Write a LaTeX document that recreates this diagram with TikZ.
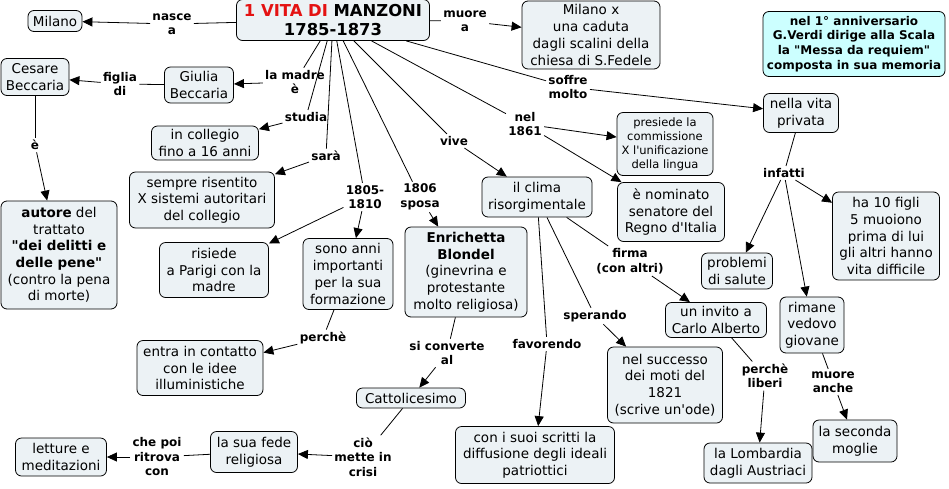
\documentclass[tikz,border=0pt]{standalone}
\usepackage{fontspec}
\setmainfont{DejaVu Sans}[Ligatures=TeXOff]
\usetikzlibrary{arrows.meta}

\definecolor{cmapfill}{RGB}{236,242,245}
\definecolor{notefill}{RGB}{204,255,255}
\definecolor{titlered}{RGB}{228,18,18}

\begin{document}
\begin{tikzpicture}[x=1pt, y=-1pt, line width=0.8pt,
    concept/.style={draw, rounded corners=6pt, fill=cmapfill, align=center, inner xsep=3pt, inner ysep=2pt, font={\fontsize{13.5}{16.7}\selectfont}},
    link/.style={align=center, inner sep=2pt, font={\fontsize{12}{14.5}\selectfont\bfseries}},
    arr/.style={-{Triangle[length=10pt, width=9pt]}}]
  \useasboundingbox (0,0) rectangle (949,488);

  % main concept
  \node[concept, minimum width=193pt, minimum height=41pt, font={\fontsize{16.4}{19}\selectfont\bfseries}] (root) at (333,20) {\textcolor{titlered}{1 VITA DI} MANZONI\\1785-1873};
  % concepts
  \foreach \n/\x/\y/\w/\h/\txt in {milano/55/21/54/21/{Milano},
      milanox/591/35/138/68/{Milano x\\una caduta\\dagli scalini della\\chiesa di S.Fedele},
      cesare/35/77/68/37/{Cesare\\Beccaria},
      giulia/199/85/69/36/{Giulia\\Beccaria},
      collegio/205/143/107/34/{in collegio\\fino a 16 anni},
      sempre/202/200/145/56/{sempre risentito\\X sistemi autoritari\\del collegio},
      autore/59/255/116/108/{\textbf{autore} del\\trattato\\\textbf{"dei delitti e}\\\textbf{delle pene"}\\(contro la pena\\di morte)},
      risiede/214/270/109/55/{risiede\\a Parigi con la\\madre},
      sono/348/274/90/71/{sono anni\\importanti\\per la sua\\formazione},
      enrichetta/466/272/122/90/{\textbf{Enrichetta}\\\textbf{Blondel}\\(ginevrina e\\protestante\\molto religiosa)},
      entra/200/368/126/55/{entra in contatto\\con le idee\\illuministiche},
      catt/411/398/109/20/{Cattolicesimo},
      fede/254/452/87/41/{la sua fede\\religiosa},
      letture/61/457/91/38/{letture e\\meditazioni},
      clima/537/197/110/40/{il clima\\risorgimentale},
      scritti/535/455/159/57/{con i suoi scritti la\\diffusione degli ideali\\patriottici},
      successo/665/385/115/76/{nel successo\\dei moti del\\1821\\(scrive un'ode)},
      invito/716/320/101/35/{un invito a\\Carlo Alberto},
      lombardia/758/463/108/40/{la Lombardia\\dagli Austriaci},
      senatore/671/212/107/59/{è nominato\\senatore del\\Regno d'Italia},
      privata/801/113/75/39/{nella vita\\privata},
      salute/737/271/71/36/{problemi\\di salute},
      vedovo/812/325/64/56/{rimane\\vedovo\\giovane},
      figli/886/236/107/88/{ha 10 figli\\5 muoiono\\prima di lui\\gli altri hanno\\vita difficile},
      moglie/855/441/84/42/{la seconda\\moglie}} {
    \node[concept, minimum width=\w pt, minimum height=\h pt] (\n) at (\x,\y) {\txt};
  }
  \node[concept, minimum width=96pt, minimum height=63pt, font={\fontsize{11.5}{14}\selectfont}] (presiede) at (665,144) {presiede la\\commissione\\X l'unificazione\\della lingua};
  % note
  \node[concept, fill=notefill, minimum width=182pt, minimum height=65pt, font={\fontsize{12}{14.7}\selectfont\bfseries}] (verdi) at (854,44) {nel 1° anniversario\\G.Verdi dirige alla Scala\\la "Messa da requiem"\\composta in sua memoria};

  % linking phrases
  \foreach \n/\x/\y/\txt in {lnasce/172/24/{nasce\\a}, lmuore/465/21/{muore\\a},
      lfiglia/120/84/{figlia\\di}, lmadre/295/82/{la madre\\è}, lstudia/306/117/{studia},
      lsara/326/156/{sarà}, l1805/365/197/{1805-\\1810}, l1806/420/197/{1806\\sposa},
      lvive/454/141/{vive}, l1861/525/124/{nel\\1861}, lsoffre/568/87/{soffre\\molto},
      le/35/145/{è}, lperche/323/338/{perchè}, lconverte/447/353/{si converte\\al},
      lcrisi/363/457/{ciò\\mette in\\crisi}, lritrova/157/457/{che poi\\ritrova\\con},
      lfavor/547/344/{favorendo}, lsperando/595/316/{sperando}, lfirma/630/261/{firma\\(con altri)},
      lliberi/765/376/{perchè\\liberi}, linfatti/784/173/{infatti}, lanche/833/382/{muore\\anche}} {
    \node[link] (\n) at (\x,\y) {\txt};
  }

  % lines into the linking phrases
  \foreach \a/\b in {root/lnasce, root/lmuore, root/lmadre, root/lstudia, root/lsara,
      root/l1805, root/l1806, root/lvive, root/l1861, root/lsoffre, giulia/lfiglia,
      cesare/le, sono/lperche, enrichetta/lconverte, catt/lcrisi, fede/lritrova,
      clima/lfavor, clima/lsperando, clima/lfirma, invito/lliberi, privata/linfatti,
      vedovo/lanche} {
    \draw (\a) -- (\b);
  }
  % arrows out of the linking phrases
  \foreach \a/\b in {lnasce/milano, lmuore/milanox, lmadre/giulia, lfiglia/cesare,
      lstudia/collegio, lsara/sempre, l1805/risiede, l1805/sono, l1806/enrichetta,
      lvive/clima, l1861/presiede, l1861/senatore, lsoffre/privata, le/autore,
      lperche/entra, lconverte/catt, lcrisi/fede, lritrova/letture, lfavor/scritti,
      lsperando/successo, lfirma/invito, lliberi/lombardia, linfatti/salute,
      linfatti/vedovo, linfatti/figli, lanche/moglie} {
    \draw[arr] (\a) -- (\b);
  }
\end{tikzpicture}
\end{document}
